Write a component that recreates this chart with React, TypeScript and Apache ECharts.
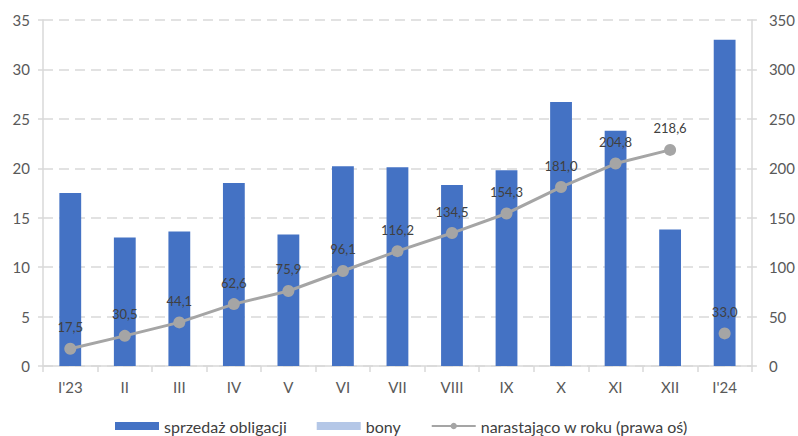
import React, { useEffect, useRef } from "react";
import * as echarts from "echarts";

const categories = ["I'23", "II", "III", "IV", "V", "VI", "VII", "VIII", "IX", "X", "XI", "XII", "I'24"];
const bondSales = [17.5, 13.0, 13.6, 18.5, 13.3, 20.2, 20.1, 18.3, 19.8, 26.7, 23.8, 13.8, 33.0];
const bills = [0, 0, 0, 0, 0, 0, 0, 0, 0, 0, 0, 0, 0];
const cumulative2023 = [17.5, 30.5, 44.1, 62.6, 75.9, 96.1, 116.2, 134.5, 154.3, 181.0, 204.8, 218.6, null];
const cumulative2024 = [null, null, null, null, null, null, null, null, null, null, null, null, 33.0];

const FONT = "Lato, 'Open Sans', sans-serif";
const LINE_NAME = "narastająco w roku (prawa oś)";
const AXIS_GREY = "#D9D9D9";

export default function App() {
  const ref = useRef<HTMLDivElement>(null);

  useEffect(() => {
    if (!ref.current) return;
    const chart = echarts.init(ref.current, null, { renderer: "svg" });
    const label = {
      show: true,
      position: "top",
      distance: 9,
      color: "#404040",
      fontSize: 13,
      fontFamily: FONT,
      formatter: (p: any) => (p.value == null ? "" : Number(p.value).toFixed(1).replace(".", ",")),
    };
    const cumulativeStyle = {
      type: "line",
      yAxisIndex: 1,
      symbol: "circle",
      symbolSize: 12,
      itemStyle: { color: "#A5A5A5" },
      lineStyle: { color: "#A5A5A5", width: 3 },
      label,
      connectNulls: false,
      z: 5,
    };
    chart.setOption({
      animation: false,
      backgroundColor: "#ffffff",
      textStyle: { fontFamily: FONT },
      grid: { left: 43, right: 38, top: 20, bottom: 70, containLabel: false },
      legend: {
        bottom: 0,
        left: 110,
        padding: [4, 5, 1, 5],
        itemGap: 30,
        itemWidth: 44,
        itemHeight: 8,
        textStyle: { color: "#404040", fontSize: 16, fontFamily: FONT, lineHeight: 18 },
        data: [
          { name: "sprzedaż obligacji", icon: "rect" },
          { name: "bony", icon: "rect" },
          { name: LINE_NAME },
        ],
      },
      xAxis: {
        type: "category",
        data: categories,
        axisLine: { lineStyle: { color: AXIS_GREY, width: 1.5 } },
        axisTick: { show: true, alignWithLabel: false, length: 6, lineStyle: { color: AXIS_GREY, width: 1.5 } },
        axisLabel: { color: "#595959", fontSize: 15, margin: 13, fontFamily: FONT },
      },
      yAxis: [
        {
          type: "value",
          min: 0,
          max: 35,
          interval: 5,
          axisLine: { show: true, lineStyle: { color: AXIS_GREY, width: 1.5 } },
          axisTick: { show: true, length: 5, lineStyle: { color: AXIS_GREY, width: 1.5 } },
          axisLabel: { color: "#595959", fontSize: 15, margin: 13, fontFamily: FONT },
          splitLine: { lineStyle: { color: AXIS_GREY, type: [10, 6], width: 1.5 } },
        },
        {
          type: "value",
          min: 0,
          max: 350,
          interval: 50,
          axisLine: { show: true, lineStyle: { color: AXIS_GREY, width: 1.5 } },
          axisTick: { show: true, length: 5, lineStyle: { color: AXIS_GREY, width: 1.5 } },
          axisLabel: { color: "#595959", fontSize: 15, margin: 17, fontFamily: FONT },
          splitLine: { show: false },
        },
      ],
      series: [
        {
          name: "sprzedaż obligacji",
          type: "bar",
          stack: "issuance",
          data: bondSales,
          barWidth: "40%",
          itemStyle: { color: "#4472C4" },
        },
        {
          name: "bony",
          type: "bar",
          stack: "issuance",
          data: bills,
          itemStyle: { color: "#B4C7E7" },
        },
        { ...cumulativeStyle, name: LINE_NAME, data: cumulative2023 },
        { ...cumulativeStyle, name: LINE_NAME, data: cumulative2024 },
      ],
    });
    return () => chart.dispose();
  }, []);

  return <div ref={ref} style={{ width: 798, height: 436, position: "absolute", left: 0, top: 0 }} />;
}
